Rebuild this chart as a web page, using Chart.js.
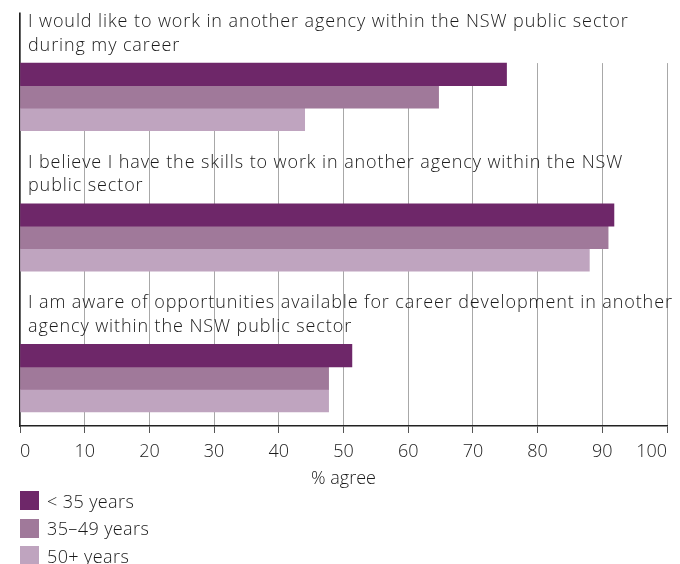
<!DOCTYPE html>
<html>
<head>
<meta charset="utf-8">
<script src="https://cdn.jsdelivr.net/npm/chart.js@4"></script>
<style>
  html, body { margin: 0; padding: 0; background: #fff; overflow: hidden; }
  #wrap { position: relative; width: 680px; height: 564px; }
  #legend { position: absolute; left: 20px; top: 487px; font-family: "Open Sans", sans-serif; font-weight: 300; font-size: 18px; letter-spacing: 0.4px; color: #1a1a1a; }
  .item { display: flex; align-items: center; height: 27.5px; }
  .sw { width: 19px; height: 19px; margin-right: 8px; flex: none; }
</style>
</head>
<body>
<div id="wrap">
  <canvas id="c" width="680" height="564"></canvas>
  <div id="legend"></div>
</div>
<script>
const categories = [
  ["I would like to work in another agency within the NSW public sector", "during my career"],
  ["I believe I have the skills to work in another agency within the NSW", "public sector"],
  ["I am aware of opportunities available for career development in another", "agency within the NSW public sector"]
];
const seriesNames = ["< 35 years", "35\u201349 years", "50+ years"];
const under35 = [75.2, 91.8, 51.3];
const age35to49 = [64.7, 90.9, 47.7];
const age50plus = [44.0, 88.0, 47.7];
const xTicks = [0, 10, 20, 30, 40, 50, 60, 70, 80, 90, 100];
const colors = ["#6E2769", "#A0799A", "#BFA4BF"];

const FONT = "'Open Sans', sans-serif";
const TEXT = '#1a1a1a';

// legend
const lg = document.getElementById('legend');
seriesNames.forEach((n, i) => {
  const d = document.createElement('div'); d.className = 'item';
  const s = document.createElement('span'); s.className = 'sw'; s.style.background = colors[i];
  const t = document.createElement('span'); t.textContent = n;
  d.appendChild(s); d.appendChild(t); lg.appendChild(d);
});

const maskPlugin = {
  id: 'mask',
  beforeDatasetsDraw(chart) {
    const ca = chart.chartArea;
    const bar = chart.getDatasetMeta(2).data[0];
    const barTop = bar.y - bar.height / 2;
    const ctx = chart.ctx;
    ctx.save();
    ctx.fillStyle = '#fff';
    ctx.fillRect(ca.left + 1, ca.top - 2, ca.right - ca.left + 3, barTop - ca.top + 2);
    ctx.fillRect(ca.left - 4, ca.top - 2, 8, 10.5);
    ctx.restore();
    // wider tracking for the category labels drawn after the bars
    ctx.letterSpacing = '0.9px';
  },
  afterDraw(chart) {
    chart.ctx.letterSpacing = '0px';
  }
};

function noPad(scale) {
  scale.paddingTop = 0; scale.paddingBottom = 0;
  scale.paddingLeft = 0; scale.paddingRight = 0;
}

const spacer = { label: '', data: [null, null, null], backgroundColor: 'rgba(0,0,0,0)' };

new Chart(document.getElementById('c'), {
  type: 'bar',
  data: {
    labels: categories,
    datasets: [
      spacer,
      Object.assign({}, spacer),
      { label: seriesNames[0], data: under35, backgroundColor: colors[0] },
      { label: seriesNames[1], data: age35to49, backgroundColor: colors[1] },
      { label: seriesNames[2], data: age50plus, backgroundColor: colors[2] }
    ]
  },
  options: {
    indexAxis: 'y',
    responsive: false,
    animation: false,
    datasets: { bar: { barThickness: 22.5 } },
    layout: { autoPadding: false, padding: { left: 20, right: 13, top: 4, bottom: 74.2 } },
    plugins: { legend: { display: false }, tooltip: { enabled: false } },
    scales: {
      x: {
        type: 'linear', min: 0, max: 100,
        afterBuildTicks(scale) { scale.ticks = xTicks.map(v => ({ value: v })); },
        afterFit: noPad,
        grid: { color: '#a8a8a8', lineWidth: 1, drawTicks: true, tickLength: 7, tickColor: '#555' },
        border: { color: '#222', width: 1.5 },
        ticks: { align: 'inner', color: TEXT, padding: 8.2, font: { family: FONT, size: 18, weight: 300 } },
        title: { display: true, text: '% agree', color: TEXT, padding: { top: -2.8, bottom: 0 }, font: { family: FONT, size: 18, weight: 300 } }
      },
      y: {
        type: 'category',
        afterFit(scale) { noPad(scale); scale.width = 0; },
        grid: { display: false, drawTicks: false },
        border: { color: '#222', width: 1.5 },
        ticks: { mirror: true, padding: 8, labelOffset: -40.6, z: 1, color: TEXT, font: { family: FONT, size: 18, weight: 300, lineHeight: 1.3 } }
      }
    }
  },
  plugins: [maskPlugin]
});
</script>
</body>
</html>
